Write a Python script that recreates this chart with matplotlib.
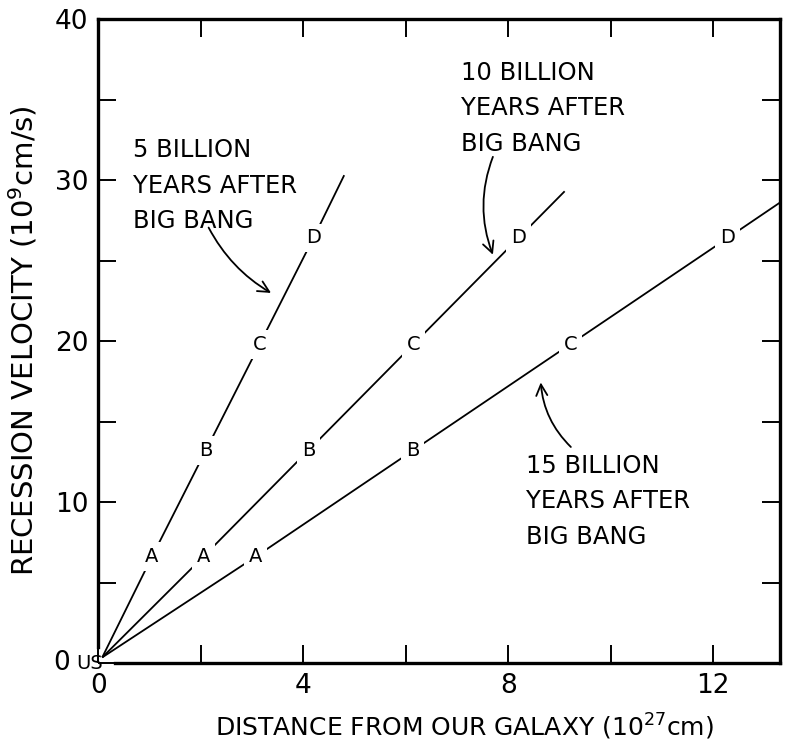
import numpy as np
import matplotlib.pyplot as plt

# values
letters = ['A', 'B', 'C', 'D']
velocity = [6.6, 13.2, 19.8, 26.4]
dist_5 = [1.05, 2.1, 3.15, 4.2]
dist_10 = [2.05, 4.1, 6.15, 8.2]
dist_15 = [3.07, 6.14, 9.21, 12.28]
end_x = [4.8, 9.1, 13.3]
end_y = [30.3, 29.3, 28.6]
labels = ['5 BILLION\nYEARS AFTER\nBIG BANG',
          '10 BILLION\nYEARS AFTER\nBIG BANG',
          '15 BILLION\nYEARS AFTER\nBIG BANG']
xticks = [0, 2, 4, 6, 8, 10, 12]
xticklabels = ['0', '', '4', '', '8', '', '12']
yticks = [0, 5, 10, 15, 20, 25, 30, 35, 40]
yticklabels = ['', '', '10', '', '20', '', '30', '', '40']

plt.rcParams['font.family'] = ['DejaVu Sans']
fig = plt.figure(figsize=(7.85, 7.45), dpi=100)
ax = fig.add_axes([0.125, 0.110, 0.8686, 0.8645])

for d, ex, ey in zip([dist_5, dist_10, dist_15], end_x, end_y):
    ax.plot([0.08] + d + [ex], [0.35] + velocity + [ey], color='black', lw=1.3,
            solid_capstyle='butt', zorder=2)
    for xx, yy, s in zip(d, velocity, letters):
        ax.text(xx, yy, s, ha='center', va='center', fontsize=14, zorder=3,
                bbox=dict(boxstyle='square,pad=0.25', fc='white', ec='none'))

# annotation texts and squiggle arrows
ax.text(0.68, 32.6, labels[0], fontsize=17.5, linespacing=1.6, va='top')
ax.text(7.07, 37.4, labels[1], fontsize=17.5, linespacing=1.6, va='top')
ax.text(8.34, 13.0, labels[2], fontsize=17.5, linespacing=1.6, va='top')

arrow = dict(arrowstyle='->', lw=1.3, color='black', mutation_scale=20)
ax.annotate('', xy=(3.42, 22.9), xytext=(2.13, 27.2),
            arrowprops=dict(connectionstyle='arc3,rad=0.15', **arrow))
ax.annotate('', xy=(7.72, 25.2), xytext=(7.72, 31.6),
            arrowprops=dict(connectionstyle='arc3,rad=0.2', **arrow))
ax.annotate('', xy=(8.63, 17.6), xytext=(9.26, 13.3),
            arrowprops=dict(connectionstyle='arc3,rad=-0.2', **arrow))

ax.set_xlim(0, 13.3)
ax.set_ylim(0, 40)
ax.set_xticks(xticks)
ax.set_xticklabels(xticklabels)
ax.set_yticks(yticks)
ax.set_yticklabels(yticklabels)
ax.tick_params(direction='in', length=13, width=1.4, top=True, right=True,
               labelsize=19, pad=7)
ax.text(0.1, 0, 'US', ha='right', va='center', fontsize=14)
ax.text(-0.55, 0, '0', ha='right', va='center', fontsize=19)

for sp in ax.spines.values():
    sp.set_linewidth(2.4)
ax.spines['bottom'].set_bounds(0.33, 13.3)
ax.spines['left'].set_bounds(1.0, 40)

ax.set_xlabel('DISTANCE FROM OUR GALAXY (10$^{27}$cm)', fontsize=18)
ax.xaxis.set_label_coords(0.537, -0.076)
ax.set_ylabel('RECESSION VELOCITY (10$^{9}$cm/s)', fontsize=21, labelpad=11)

fig.savefig('out.png', dpi=100)
